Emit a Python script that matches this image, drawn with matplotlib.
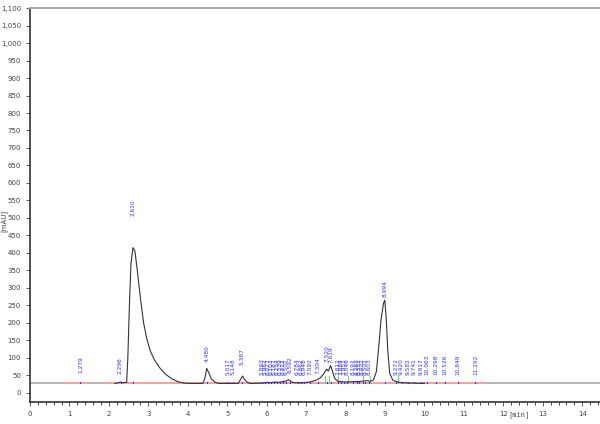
import matplotlib
matplotlib.use("Agg")
import matplotlib.pyplot as plt
from matplotlib.ticker import MultipleLocator, FuncFormatter

# trace points (time in min, signal in mAU)
trace_t = [2.15, 2.25, 2.30, 2.35, 2.45, 2.48, 2.52, 2.56, 2.61, 2.66, 2.72, 2.80, 2.88, 2.96, 3.05, 3.15, 3.30, 3.45, 3.60, 3.75, 3.90, 4.05,
           4.38, 4.43, 4.48, 4.53, 4.60, 4.68, 4.78, 5.28, 5.33, 5.387, 5.43, 5.50, 5.58,
           5.90, 6.00, 6.10, 6.20, 6.30, 6.40, 6.50, 6.55, 6.62, 6.70, 6.90, 7.10, 7.25, 7.35, 7.45, 7.52, 7.56, 7.62, 7.66, 7.72, 7.80,
           8.00, 8.20, 8.40, 8.55, 8.62, 8.70, 8.78, 8.84, 8.90, 8.96, 8.994, 9.03, 9.07, 9.12, 9.20, 9.35, 9.60, 10.0]
trace_y = [27, 29, 31, 29, 30, 100, 250, 370, 415, 405, 350, 270, 200, 155, 120, 95, 70, 52, 40, 32, 28, 27,
           27, 40, 70, 58, 40, 31, 27, 27, 37, 48, 40, 31, 27,
           28, 30, 29, 31, 30, 32, 34, 38, 32, 29, 29, 31, 36, 42, 55, 68, 62, 78, 65, 42, 33,
           31, 32, 33, 35, 33, 36, 60, 130, 210, 255, 265, 215, 120, 55, 36, 30, 28, 27]

# peak labels (retention times) and heights where their labels start
peak_rt = [1.279, 2.296, 2.610, 4.480, 5.017, 5.148, 5.387,
           5.893, 5.962, 6.027, 6.103, 6.187, 6.254, 6.339, 6.412, 6.502, 6.592,
           6.784, 6.862, 6.948, 7.092, 7.304, 7.520, 7.619,
           7.812, 7.884, 7.951, 8.046, 8.192, 8.283, 8.351, 8.432, 8.502, 8.603,
           8.994, 9.272, 9.420, 9.582, 9.741, 9.917, 10.063, 10.298, 10.526, 10.849, 11.292]
label_base = [58, 55, 505, 88, 52, 52, 80,
              52, 52, 52, 52, 52, 52, 52, 52, 52, 58,
              52, 52, 52, 52, 55, 88, 84,
              50, 50, 50, 50, 52, 52, 52, 52, 52, 52,
              275, 52, 52, 52, 52, 52, 52, 52, 52, 52, 52]

baseline = 27
red_segments = [(0.85, 1.45), (1.9, 11.5)]
green_drops = [7.47, 7.57, 7.82, 8.05, 8.43, 8.62, 9.33]

fig = plt.figure(figsize=(6, 4.24), dpi=100)
ax = fig.add_axes([0.05, 0.052, 0.95, 0.929])

ax.axhline(baseline, color="#aaaaaa", lw=1.2, zorder=1)
for a, b in red_segments:
    ax.plot([a, b], [baseline, baseline], color="#ff9f9f", lw=1.2, zorder=2)
for g in green_drops:
    ax.plot([g, g], [baseline, baseline + 20], color="#66dd66", lw=0.8, zorder=2)

ax.plot(trace_t, trace_y, color="#333333", lw=0.8, zorder=3)

for rt, base in zip(peak_rt, label_base):
    ax.plot([rt, rt], [baseline, baseline + 5], color="#3333ff", lw=0.8, zorder=4)
    ax.text(rt, base, f"{rt:.3f}", rotation=90, ha="center", va="bottom",
            fontsize=4.2, color="#3333ff", zorder=5)

ax.set_xlim(0, 14.45)
ax.set_ylim(-26, 1100)
ax.xaxis.set_major_locator(MultipleLocator(1))
ax.xaxis.set_minor_locator(MultipleLocator(0.2))
ax.yaxis.set_major_locator(MultipleLocator(50))
ax.yaxis.set_major_formatter(FuncFormatter(lambda v, p: f"{int(v):,}"))
ax.tick_params(labelsize=5, colors="#444444", length=3, width=0.6)
ax.tick_params(which="minor", length=2, width=0.5)

ax.spines["right"].set_visible(False)
ax.spines["top"].set_color("#aaaaaa")
ax.spines["top"].set_linewidth(1.5)
ax.spines["left"].set_color("#333333")
ax.spines["bottom"].set_color("#333333")
ax.spines["left"].set_linewidth(1.2)
ax.spines["bottom"].set_linewidth(1.2)

ax.text(-0.045, 0.46, "[mAU]", transform=ax.transAxes, rotation=90,
        fontsize=5, color="#444444", ha="center", va="center")
ax.text(12.4, -62, "[min]", fontsize=5, color="#444444", ha="center", va="center",
        family="monospace")

fig.savefig("out.png", dpi=100)
